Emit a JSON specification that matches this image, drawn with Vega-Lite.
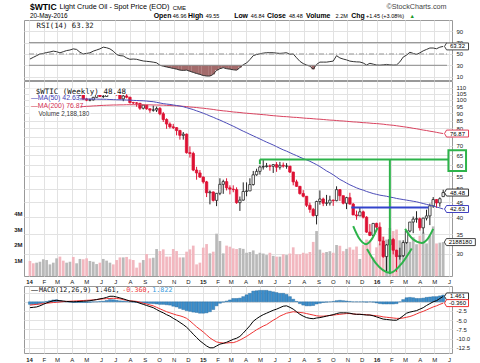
{
"$schema":"https://vega.github.io/schema/vega-lite/v6.json",
"padding":{"left":13,"top":2,"right":0,"bottom":0},
"background":"white",
"config":{"font":"Liberation Sans","view":{"stroke":"#999999","strokeWidth":1},
"axis":{"labelFont":"Liberation Sans","labelFontSize":6,"labelColor":"#222222","gridColor":"#e2e2e2","gridWidth":1,"domain":false,"ticks":false,"labelOverlap":false},
"text":{"font":"Liberation Sans"}},
"datasets":{
"w":[
{"d":"2014-01-03","vol":0.97,"dir":"dn","rsi":41,"m":-1.6,"s":-0.9,"hist":-0.7},
{"d":"2014-01-10","vol":0.82,"dir":"dn","rsi":44,"m":-1.5,"s":-0.8,"hist":-0.7},
{"d":"2014-01-17","vol":0.86,"dir":"up","rsi":47,"m":-1.4,"s":-0.7,"hist":-0.7},
{"d":"2014-01-24","vol":0.92,"dir":"up","rsi":50,"m":-1.1,"s":-0.6,"hist":-0.5},
{"d":"2014-01-31","vol":1.08,"dir":"up","rsi":51,"m":-0.7,"s":-0.5,"hist":-0.2},
{"d":"2014-02-07","vol":1.03,"dir":"up","rsi":52.5,"m":-0.3,"s":-0.4,"hist":0.1},
{"d":"2014-02-14","vol":0.75,"dir":"up","rsi":53.5,"m":0.0,"s":-0.3,"hist":0.3},
{"d":"2014-02-21","vol":0.86,"dir":"up","rsi":55,"m":0.3,"s":-0.2,"hist":0.5},
{"d":"2014-02-28","vol":1.14,"dir":"up","rsi":54,"m":0.4,"s":-0.15,"hist":0.55},
{"d":"2014-03-07","vol":1.25,"dir":"dn","rsi":52,"m":0.3,"s":-0.05,"hist":0.35},
{"d":"2014-03-14","vol":0.99,"dir":"dn","rsi":54,"m":0.2,"s":0.05,"hist":0.15},
{"d":"2014-03-21","vol":0.86,"dir":"up","rsi":56,"m":0.1,"s":0.1,"hist":0.0},
{"d":"2014-03-28","vol":0.92,"dir":"up","rsi":57,"m":0.05,"s":0.15,"hist":-0.1},
{"d":"2014-04-04","vol":1.23,"dir":"dn","rsi":59,"m":0.0,"s":0.2,"hist":-0.2},
{"d":"2014-04-11","vol":0.82,"dir":"up","rsi":58,"m":0.05,"s":0.25,"hist":-0.2,"o":101.2,"hi":104.0,"lo":100.8,"c":103.7},
{"d":"2014-04-18","vol":1.1,"dir":"up","rsi":53,"m":0.1,"s":0.3,"hist":-0.2,"o":103.7,"hi":104.9,"lo":103.0,"c":104.3,"ma50":100.7,"ma200":94.7},
{"d":"2014-04-25","vol":1.08,"dir":"dn","rsi":50,"m":0.15,"s":0.35,"hist":-0.2,"o":104.3,"hi":104.5,"lo":100.3,"c":100.6,"ma50":100.7,"ma200":94.9},
{"d":"2014-05-02","vol":1.14,"dir":"dn","rsi":51,"m":0.2,"s":0.4,"hist":-0.2,"o":100.6,"hi":101.6,"lo":99.0,"c":99.8,"ma50":100.7,"ma200":95.1},
{"d":"2014-05-09","vol":0.97,"dir":"up","rsi":52,"m":0.3,"s":0.45,"hist":-0.15,"o":99.8,"hi":101.0,"lo":98.9,"c":100.0,"ma50":100.65,"ma200":95.2},
{"d":"2014-05-16","vol":0.92,"dir":"up","rsi":55,"m":0.45,"s":0.5,"hist":-0.05,"o":100.0,"hi":102.4,"lo":99.5,"c":102.0,"ma50":100.6,"ma200":95.4},
{"d":"2014-05-23","vol":0.77,"dir":"up","rsi":57,"m":0.6,"s":0.6,"hist":0.0,"o":102.0,"hi":104.5,"lo":101.8,"c":104.4,"ma50":100.6,"ma200":95.5},
{"d":"2014-05-30","vol":0.86,"dir":"dn","rsi":59,"m":0.8,"s":0.7,"hist":0.1,"o":104.4,"hi":104.6,"lo":102.2,"c":102.7,"ma50":100.5,"ma200":95.7},
{"d":"2014-06-06","vol":1.1,"dir":"up","rsi":62,"m":0.95,"s":0.8,"hist":0.15,"o":102.7,"hi":104.0,"lo":101.4,"c":102.7,"ma50":100.5,"ma200":95.8},
{"d":"2014-06-13","vol":0.99,"dir":"up","rsi":61,"m":1.2,"s":0.85,"hist":0.35,"o":102.7,"hi":107.7,"lo":102.5,"c":106.9,"ma50":100.45,"ma200":95.9},
{"d":"2014-06-20","vol":0.86,"dir":"up","rsi":59,"m":1.5,"s":0.9,"hist":0.6,"o":106.9,"hi":107.7,"lo":105.5,"c":107.3,"ma50":100.3,"ma200":96.0},
{"d":"2014-06-27","vol":0.75,"dir":"dn","rsi":55,"m":1.5,"s":0.95,"hist":0.55,"o":107.3,"hi":107.5,"lo":104.8,"c":105.7,"ma50":100.2,"ma200":96.1},
{"d":"2014-07-04","vol":1.03,"dir":"dn","rsi":49,"m":1.3,"s":0.9,"hist":0.4,"o":105.7,"hi":106.0,"lo":103.4,"c":104.1,"ma50":100.1,"ma200":96.1},
{"d":"2014-07-11","vol":1.2,"dir":"dn","rsi":47,"m":1.05,"s":0.8,"hist":0.25,"o":104.1,"hi":104.2,"lo":100.6,"c":100.8,"ma50":100.05,"ma200":96.2},
{"d":"2014-07-18","vol":1.2,"dir":"up","rsi":46.5,"m":0.8,"s":0.6,"hist":0.2,"o":100.8,"hi":104.0,"lo":99.0,"c":103.1,"ma50":100.0,"ma200":96.2},
{"d":"2014-07-25","vol":1.23,"dir":"dn","rsi":43,"m":0.5,"s":0.4,"hist":0.1,"o":103.1,"hi":104.6,"lo":101.2,"c":102.1,"ma50":99.9,"ma200":96.3},
{"d":"2014-08-01","vol":1.08,"dir":"dn","rsi":40.6,"m":0.2,"s":0.25,"hist":-0.05,"o":102.1,"hi":102.4,"lo":97.2,"c":97.9,"ma50":99.8,"ma200":96.3},
{"d":"2014-08-08","vol":1.03,"dir":"dn","rsi":41,"m":0.1,"s":0.2,"hist":-0.1,"o":97.9,"hi":98.5,"lo":96.6,"c":97.7,"ma50":99.6,"ma200":96.3},
{"d":"2014-08-15","vol":0.54,"dir":"dn","rsi":40.6,"m":-0.06,"s":0.1,"hist":-0.16,"o":97.7,"hi":98.3,"lo":94.8,"c":97.4,"ma50":99.5,"ma200":96.3},
{"d":"2014-08-22","vol":0.86,"dir":"dn","rsi":39,"m":-0.4,"s":-0.1,"hist":-0.3,"o":97.4,"hi":97.6,"lo":92.5,"c":93.7,"ma50":99.4,"ma200":96.3},
{"d":"2014-08-29","vol":1.03,"dir":"up","rsi":37.6,"m":-0.7,"s":-0.4,"hist":-0.3,"o":93.7,"hi":96.1,"lo":92.8,"c":96.0,"ma50":99.3,"ma200":96.3},
{"d":"2014-09-05","vol":1.42,"dir":"dn","rsi":37,"m":-1.0,"s":-0.6,"hist":-0.4,"o":96.0,"hi":96.1,"lo":92.6,"c":93.3,"ma50":99.1,"ma200":96.2},
{"d":"2014-09-12","vol":1.14,"dir":"dn","rsi":36.4,"m":-1.3,"s":-0.85,"hist":-0.45,"o":93.3,"hi":93.3,"lo":90.4,"c":92.3,"ma50":98.8,"ma200":96.2},
{"d":"2014-09-19","vol":1.18,"dir":"up","rsi":35.5,"m":-1.6,"s":-1.1,"hist":-0.5,"o":92.3,"hi":95.6,"lo":91.2,"c":92.4,"ma50":98.6,"ma200":96.1},
{"d":"2014-09-26","vol":1.74,"dir":"up","rsi":34.4,"m":-2.1,"s":-1.5,"hist":-0.6,"o":92.4,"hi":94.9,"lo":91.0,"c":93.5,"ma50":98.1,"ma200":96.1},
{"d":"2014-10-03","vol":1.61,"dir":"dn","rsi":30,"m":-2.6,"s":-1.9,"hist":-0.7,"o":93.5,"hi":94.6,"lo":88.7,"c":89.7,"ma50":97.6,"ma200":96.0},
{"d":"2014-10-10","vol":1.72,"dir":"dn","rsi":28.5,"m":-3.0,"s":-2.3,"hist":-0.7,"o":89.7,"hi":91.0,"lo":84.2,"c":85.8,"ma50":97.1,"ma200":96.0},
{"d":"2014-10-17","vol":1.25,"dir":"dn","rsi":27,"m":-3.5,"s":-2.7,"hist":-0.8,"o":85.8,"hi":86.6,"lo":79.8,"c":82.8,"ma50":96.8,"ma200":95.8},
{"d":"2014-10-24","vol":1.25,"dir":"dn","rsi":25.8,"m":-3.9,"s":-3.0,"hist":-0.9,"o":82.8,"hi":83.9,"lo":80.0,"c":81.0,"ma50":96.5,"ma200":95.7},
{"d":"2014-10-31","vol":1.74,"dir":"dn","rsi":24.5,"m":-4.5,"s":-3.3,"hist":-1.2,"o":81.0,"hi":82.9,"lo":79.6,"c":80.5,"ma50":96.1,"ma200":95.5},
{"d":"2014-11-07","vol":1.61,"dir":"dn","rsi":23.2,"m":-5.0,"s":-3.6,"hist":-1.4,"o":80.5,"hi":80.8,"lo":75.8,"c":78.7,"ma50":95.7,"ma200":95.4},
{"d":"2014-11-14","vol":1.2,"dir":"dn","rsi":21.5,"m":-5.6,"s":-3.8,"hist":-1.8,"o":78.7,"hi":79.2,"lo":73.3,"c":75.8,"ma50":95.3,"ma200":95.3},
{"d":"2014-11-21","vol":1.2,"dir":"up","rsi":21,"m":-6.2,"s":-4.1,"hist":-2.1,"o":75.8,"hi":77.8,"lo":73.3,"c":76.5,"ma50":94.8,"ma200":95.1},
{"d":"2014-11-28","vol":1.57,"dir":"dn","rsi":21.5,"m":-6.9,"s":-4.5,"hist":-2.4,"o":76.5,"hi":76.9,"lo":65.7,"c":66.2,"ma50":94.1,"ma200":94.9},
{"d":"2014-12-05","vol":1.72,"dir":"dn","rsi":19.5,"m":-7.8,"s":-5.2,"hist":-2.6,"o":66.2,"hi":69.5,"lo":63.7,"c":65.8,"ma50":93.4,"ma200":94.6},
{"d":"2014-12-12","vol":1.96,"dir":"dn","rsi":17.5,"m":-8.8,"s":-6.0,"hist":-2.8,"o":65.8,"hi":66.7,"lo":57.3,"c":57.8,"ma50":92.7,"ma200":94.4},
{"d":"2014-12-19","vol":0.75,"dir":"dn","rsi":15.5,"m":-9.7,"s":-6.8,"hist":-2.9,"o":57.8,"hi":59.3,"lo":53.6,"c":56.5,"ma50":91.8,"ma200":94.2},
{"d":"2014-12-26","vol":0.86,"dir":"dn","rsi":14,"m":-10.6,"s":-7.5,"hist":-3.1,"o":56.5,"hi":57.8,"lo":54.4,"c":54.7,"ma50":91.0,"ma200":93.9},
{"d":"2015-01-02","vol":1.83,"dir":"dn","rsi":12,"m":-11.3,"s":-8.2,"hist":-3.1,"o":54.7,"hi":55.0,"lo":52.0,"c":52.7,"ma50":90.1,"ma200":93.7},
{"d":"2015-01-09","vol":2.06,"dir":"dn","rsi":11,"m":-12.0,"s":-9.0,"hist":-3.0,"o":52.7,"hi":53.1,"lo":46.8,"c":48.4,"ma50":89.2,"ma200":93.4},
{"d":"2015-01-16","vol":1.46,"dir":"up","rsi":11,"m":-12.5,"s":-9.8,"hist":-2.7,"o":48.4,"hi":49.3,"lo":44.2,"c":48.7,"ma50":88.2,"ma200":93.1},
{"d":"2015-01-23","vol":1.57,"dir":"dn","rsi":14,"m":-12.5,"s":-10.4,"hist":-2.1,"o":48.7,"hi":48.9,"lo":45.2,"c":45.6,"ma50":87.3,"ma200":92.8},
{"d":"2015-01-30","vol":2.73,"dir":"up","rsi":21,"m":-12.0,"s":-10.9,"hist":-1.1,"o":45.6,"hi":48.3,"lo":43.6,"c":48.2,"ma50":86.3,"ma200":92.4},
{"d":"2015-02-06","vol":2.26,"dir":"up","rsi":24,"m":-11.5,"s":-11.1,"hist":-0.4,"o":48.2,"hi":54.2,"lo":47.5,"c":51.7,"ma50":85.4,"ma200":92.1},
{"d":"2015-02-13","vol":1.46,"dir":"up","rsi":25.8,"m":-11.3,"s":-11.2,"hist":-0.1,"o":51.7,"hi":53.6,"lo":48.0,"c":52.8,"ma50":84.4,"ma200":91.8},
{"d":"2015-02-20","vol":1.96,"dir":"dn","rsi":24,"m":-11.0,"s":-11.2,"hist":0.2,"o":52.8,"hi":54.2,"lo":49.3,"c":50.3,"ma50":83.4,"ma200":91.6},
{"d":"2015-02-27","vol":1.89,"dir":"dn","rsi":23.2,"m":-10.6,"s":-11.1,"hist":0.5,"o":50.3,"hi":51.3,"lo":47.8,"c":49.8,"ma50":82.4,"ma200":91.3},
{"d":"2015-03-06","vol":1.78,"dir":"dn","rsi":22,"m":-10.2,"s":-11.1,"hist":0.9,"o":49.8,"hi":51.3,"lo":48.6,"c":49.6,"ma50":81.4,"ma200":91.0},
{"d":"2015-03-13","vol":1.74,"dir":"dn","rsi":21.5,"m":-9.9,"s":-10.8,"hist":0.9,"o":49.6,"hi":50.5,"lo":44.4,"c":44.8,"ma50":80.4,"ma200":90.8},
{"d":"2015-03-20","vol":1.8,"dir":"up","rsi":26,"m":-9.4,"s":-10.4,"hist":1.0,"o":44.8,"hi":47.0,"lo":42.0,"c":45.7,"ma50":79.3,"ma200":90.6},
{"d":"2015-03-27","vol":1.75,"dir":"up","rsi":31,"m":-8.5,"s":-9.9,"hist":1.4,"o":45.7,"hi":52.5,"lo":45.5,"c":48.9,"ma50":78.3,"ma200":90.3},
{"d":"2015-04-03","vol":1.5,"dir":"up","rsi":34,"m":-7.5,"s":-9.4,"hist":1.9,"o":48.9,"hi":52.5,"lo":47.1,"c":49.1,"ma50":77.4,"ma200":90.1},
{"d":"2015-04-10","vol":1.55,"dir":"up","rsi":40,"m":-6.5,"s":-8.8,"hist":2.3,"o":49.1,"hi":54.2,"lo":49.1,"c":51.6,"ma50":76.4,"ma200":89.9},
{"d":"2015-04-17","vol":1.65,"dir":"up","rsi":47,"m":-5.3,"s":-8.2,"hist":2.9,"o":51.6,"hi":57.4,"lo":51.2,"c":55.7,"ma50":75.5,"ma200":89.7},
{"d":"2015-04-24","vol":1.4,"dir":"up","rsi":49,"m":-4.6,"s":-7.6,"hist":3.0,"o":55.7,"hi":58.4,"lo":55.3,"c":57.2,"ma50":74.6,"ma200":89.5},
{"d":"2015-05-01","vol":1.5,"dir":"up","rsi":50.4,"m":-4.0,"s":-7.1,"hist":3.1,"o":57.2,"hi":59.9,"lo":55.8,"c":59.2,"ma50":73.7,"ma200":89.3},
{"d":"2015-05-08","vol":1.45,"dir":"up","rsi":51.5,"m":-3.5,"s":-6.6,"hist":3.1,"o":59.2,"hi":62.6,"lo":58.0,"c":59.4,"ma50":72.8,"ma200":89.1},
{"d":"2015-05-15","vol":1.35,"dir":"up","rsi":52.2,"m":-3.1,"s":-6.2,"hist":3.1,"o":59.4,"hi":61.1,"lo":58.9,"c":59.7,"ma50":71.9,"ma200":88.9},
{"d":"2015-05-22","vol":1.5,"dir":"dn","rsi":52.2,"m":-2.7,"s":-5.6,"hist":2.9,"o":59.7,"hi":60.4,"lo":57.5,"c":59.5,"ma50":71.1,"ma200":88.6},
{"d":"2015-05-29","vol":1.3,"dir":"up","rsi":52.2,"m":-2.3,"s":-5.0,"hist":2.7,"o":59.5,"hi":60.6,"lo":56.5,"c":60.3,"ma50":70.3,"ma200":88.4},
{"d":"2015-06-05","vol":1.25,"dir":"dn","rsi":51.5,"m":-2.0,"s":-4.5,"hist":2.5,"o":60.3,"hi":61.5,"lo":57.0,"c":59.1,"ma50":69.4,"ma200":88.2},
{"d":"2015-06-12","vol":1.25,"dir":"up","rsi":51,"m":-1.6,"s":-3.9,"hist":2.3,"o":59.1,"hi":61.6,"lo":58.0,"c":60.0,"ma50":68.5,"ma200":88.0},
{"d":"2015-06-19","vol":1.4,"dir":"dn","rsi":51.5,"m":-1.2,"s":-3.5,"hist":2.3,"o":60.0,"hi":61.3,"lo":58.9,"c":59.6,"ma50":67.7,"ma200":87.8},
{"d":"2015-06-26","vol":1.35,"dir":"up","rsi":52.2,"m":-1.1,"s":-3.1,"hist":2.0,"o":59.6,"hi":61.0,"lo":58.4,"c":59.6,"ma50":67.0,"ma200":87.7},
{"d":"2015-07-03","vol":1.45,"dir":"dn","rsi":49.3,"m":-1.5,"s":-2.9,"hist":1.4,"o":59.6,"hi":59.7,"lo":56.5,"c":56.9,"ma50":66.2,"ma200":87.5},
{"d":"2015-07-10","vol":1.85,"dir":"dn","rsi":50,"m":-2.0,"s":-2.7,"hist":0.7,"o":56.9,"hi":57.0,"lo":51.3,"c":52.7,"ma50":65.4,"ma200":87.3},
{"d":"2015-07-17","vol":1.4,"dir":"dn","rsi":43.3,"m":-2.7,"s":-2.8,"hist":0.1,"o":52.7,"hi":53.6,"lo":50.7,"c":50.9,"ma50":64.7,"ma200":87.2},
{"d":"2015-07-24","vol":1.4,"dir":"dn","rsi":37,"m":-3.4,"s":-2.9,"hist":-0.5,"o":50.9,"hi":51.0,"lo":47.7,"c":48.1,"ma50":63.9,"ma200":87.0},
{"d":"2015-07-31","vol":1.5,"dir":"dn","rsi":33,"m":-3.9,"s":-3.0,"hist":-0.9,"o":48.1,"hi":49.4,"lo":46.7,"c":47.1,"ma50":63.2,"ma200":86.8},
{"d":"2015-08-07","vol":1.45,"dir":"dn","rsi":30.5,"m":-4.3,"s":-3.2,"hist":-1.1,"o":47.1,"hi":47.1,"lo":43.3,"c":43.9,"ma50":62.6,"ma200":86.6},
{"d":"2015-08-14","vol":1.55,"dir":"dn","rsi":28.5,"m":-4.5,"s":-3.4,"hist":-1.1,"o":43.9,"hi":44.8,"lo":41.4,"c":42.5,"ma50":61.9,"ma200":86.5},
{"d":"2015-08-21","vol":2.2,"dir":"dn","rsi":23,"m":-4.6,"s":-3.6,"hist":-1.0,"o":42.5,"hi":43.0,"lo":40.2,"c":40.5,"ma50":61.1,"ma200":86.3},
{"d":"2015-08-28","vol":2.9,"dir":"up","rsi":31.5,"m":-4.4,"s":-3.8,"hist":-0.6,"o":40.5,"hi":45.5,"lo":37.8,"c":45.2,"ma50":60.3,"ma200":86.1},
{"d":"2015-09-04","vol":1.7,"dir":"up","rsi":35.6,"m":-4.3,"s":-3.9,"hist":-0.4,"o":45.2,"hi":49.3,"lo":44.1,"c":46.1,"ma50":59.4,"ma200":86.0},
{"d":"2015-09-11","vol":1.5,"dir":"dn","rsi":35.6,"m":-4.1,"s":-3.9,"hist":-0.2,"o":46.1,"hi":46.6,"lo":43.6,"c":44.6,"ma50":58.4,"ma200":85.8},
{"d":"2015-09-18","vol":1.55,"dir":"up","rsi":35.6,"m":-3.9,"s":-3.8,"hist":-0.1,"o":44.6,"hi":47.6,"lo":43.7,"c":44.7,"ma50":57.4,"ma200":85.6},
{"d":"2015-09-25","vol":1.6,"dir":"up","rsi":36.5,"m":-3.7,"s":-3.7,"hist":0.0,"o":44.7,"hi":47.3,"lo":43.8,"c":45.7,"ma50":56.6,"ma200":85.4},
{"d":"2015-10-02","vol":1.5,"dir":"dn","rsi":37.4,"m":-3.5,"s":-3.6,"hist":0.1,"o":45.7,"hi":45.9,"lo":43.7,"c":45.5,"ma50":55.7,"ma200":85.3},
{"d":"2015-10-09","vol":2.0,"dir":"up","rsi":47,"m":-3.2,"s":-3.5,"hist":0.3,"o":45.5,"hi":50.9,"lo":45.3,"c":49.6,"ma50":54.7,"ma200":85.1},
{"d":"2015-10-16","vol":1.95,"dir":"dn","rsi":43,"m":-3.0,"s":-3.4,"hist":0.4,"o":49.6,"hi":49.8,"lo":45.4,"c":47.3,"ma50":53.7,"ma200":84.9},
{"d":"2015-10-23","vol":1.6,"dir":"dn","rsi":41,"m":-3.0,"s":-3.3,"hist":0.3,"o":47.3,"hi":47.3,"lo":44.2,"c":44.6,"ma50":53.0,"ma200":84.8},
{"d":"2015-10-30","vol":1.75,"dir":"up","rsi":39.5,"m":-3.0,"s":-3.2,"hist":0.2,"o":44.6,"hi":46.9,"lo":42.6,"c":46.6,"ma50":52.2,"ma200":84.6},
{"d":"2015-11-06","vol":1.85,"dir":"dn","rsi":37.4,"m":-3.1,"s":-3.2,"hist":0.1,"o":46.6,"hi":48.4,"lo":44.2,"c":44.3,"ma50":51.5,"ma200":84.4},
{"d":"2015-11-13","vol":1.7,"dir":"dn","rsi":36.5,"m":-3.3,"s":-3.3,"hist":0.0,"o":44.3,"hi":44.7,"lo":40.7,"c":40.7,"ma50":50.9,"ma200":84.2},
{"d":"2015-11-20","vol":1.9,"dir":"dn","rsi":36,"m":-3.4,"s":-3.4,"hist":0.0,"o":40.7,"hi":42.1,"lo":39.2,"c":40.4,"ma50":50.3,"ma200":84.1},
{"d":"2015-11-27","vol":1.1,"dir":"up","rsi":35.8,"m":-3.4,"s":-3.4,"hist":0.0,"o":40.4,"hi":43.1,"lo":40.4,"c":41.7,"ma50":49.8,"ma200":83.9},
{"d":"2015-12-04","vol":2.0,"dir":"dn","rsi":34,"m":-3.5,"s":-3.45,"hist":-0.05,"o":41.7,"hi":42.1,"lo":39.6,"c":40.0,"ma50":49.4,"ma200":83.7},
{"d":"2015-12-11","vol":2.35,"dir":"dn","rsi":30.5,"m":-3.6,"s":-3.5,"hist":-0.1,"o":40.0,"hi":40.3,"lo":35.4,"c":35.6,"ma50":48.9,"ma200":83.6},
{"d":"2015-12-18","vol":2.3,"dir":"dn","rsi":33.5,"m":-3.6,"s":-3.6,"hist":0.0,"o":35.6,"hi":37.9,"lo":34.5,"c":34.7,"ma50":48.5,"ma200":83.4},
{"d":"2015-12-25","vol":1.2,"dir":"up","rsi":32,"m":-3.8,"s":-3.7,"hist":-0.1,"o":34.7,"hi":38.1,"lo":34.5,"c":38.1,"ma50":48.1,"ma200":83.2},
{"d":"2016-01-01","vol":1.85,"dir":"dn","rsi":30.5,"m":-4.1,"s":-3.8,"hist":-0.3,"o":38.1,"hi":38.3,"lo":36.0,"c":37.0,"ma50":47.8,"ma200":83.1},
{"d":"2016-01-08","vol":2.1,"dir":"dn","rsi":30.2,"m":-4.4,"s":-3.9,"hist":-0.5,"o":37.0,"hi":38.4,"lo":32.1,"c":33.2,"ma50":47.5,"ma200":82.9},
{"d":"2016-01-15","vol":2.55,"dir":"dn","rsi":30.8,"m":-4.7,"s":-4.1,"hist":-0.6,"o":33.2,"hi":34.3,"lo":29.1,"c":29.4,"ma50":47.3,"ma200":82.7},
{"d":"2016-01-22","vol":2.35,"dir":"up","rsi":31.5,"m":-4.8,"s":-4.2,"hist":-0.6,"o":29.4,"hi":32.4,"lo":26.2,"c":32.2,"ma50":47.1,"ma200":82.4},
{"d":"2016-01-29","vol":3.1,"dir":"up","rsi":30.8,"m":-4.9,"s":-4.3,"hist":-0.6,"o":32.2,"hi":34.8,"lo":29.3,"c":33.6,"ma50":46.8,"ma200":82.2},
{"d":"2016-02-05","vol":2.9,"dir":"dn","rsi":30.3,"m":-5.0,"s":-4.4,"hist":-0.6,"o":33.6,"hi":34.0,"lo":29.9,"c":30.9,"ma50":46.6,"ma200":82.0},
{"d":"2016-02-12","vol":3.0,"dir":"dn","rsi":30.6,"m":-5.0,"s":-4.5,"hist":-0.5,"o":30.9,"hi":31.0,"lo":26.1,"c":29.4,"ma50":46.3,"ma200":81.7},
{"d":"2016-02-19","vol":2.3,"dir":"up","rsi":36,"m":-4.5,"s":-4.5,"hist":0.0,"o":29.4,"hi":31.5,"lo":28.7,"c":29.6,"ma50":46.1,"ma200":81.4},
{"d":"2016-02-26","vol":2.2,"dir":"up","rsi":44.5,"m":-3.8,"s":-4.4,"hist":0.6,"o":29.6,"hi":33.4,"lo":29.3,"c":32.8,"ma50":45.9,"ma200":81.1},
{"d":"2016-03-04","vol":2.4,"dir":"up","rsi":48,"m":-3.1,"s":-4.2,"hist":1.1,"o":32.8,"hi":36.0,"lo":32.5,"c":35.9,"ma50":45.7,"ma200":80.8},
{"d":"2016-03-11","vol":2.2,"dir":"up","rsi":53,"m":-2.8,"s":-4.0,"hist":1.2,"o":35.9,"hi":38.5,"lo":35.5,"c":38.5,"ma50":45.5,"ma200":80.5},
{"d":"2016-03-18","vol":2.5,"dir":"up","rsi":51,"m":-2.6,"s":-3.7,"hist":1.1,"o":38.5,"hi":40.2,"lo":35.3,"c":39.4,"ma50":45.3,"ma200":80.1},
{"d":"2016-03-25","vol":2.05,"dir":"up","rsi":49.2,"m":-2.4,"s":-3.3,"hist":0.9,"o":39.4,"hi":41.9,"lo":38.3,"c":39.5,"ma50":45.1,"ma200":79.8},
{"d":"2016-04-01","vol":2.6,"dir":"dn","rsi":52,"m":-2.0,"s":-2.9,"hist":0.9,"o":39.5,"hi":39.9,"lo":36.0,"c":36.8,"ma50":44.8,"ma200":79.4},
{"d":"2016-04-08","vol":2.8,"dir":"up","rsi":55.5,"m":-1.6,"s":-2.6,"hist":1.0,"o":36.8,"hi":39.8,"lo":35.2,"c":39.7,"ma50":44.5,"ma200":79.0},
{"d":"2016-04-15","vol":2.1,"dir":"up","rsi":58,"m":-1.0,"s":-2.2,"hist":1.2,"o":39.7,"hi":42.4,"lo":39.0,"c":40.4,"ma50":44.2,"ma200":78.7},
{"d":"2016-04-22","vol":2.6,"dir":"up","rsi":60.5,"m":-0.5,"s":-1.8,"hist":1.3,"o":40.4,"hi":44.5,"lo":37.6,"c":43.7,"ma50":43.9,"ma200":78.3},
{"d":"2016-04-29","vol":3.2,"dir":"up","rsi":60.5,"m":0.0,"s":-1.4,"hist":1.4,"o":43.7,"hi":46.8,"lo":43.0,"c":45.9,"ma50":43.6,"ma200":78.0},
{"d":"2016-05-06","vol":2.1,"dir":"dn","rsi":59.2,"m":0.3,"s":-1.1,"hist":1.4,"o":45.9,"hi":46.0,"lo":43.0,"c":44.7,"ma50":43.3,"ma200":77.6},
{"d":"2016-05-13","vol":2.15,"dir":"up","rsi":62,"m":0.9,"s":-0.7,"hist":1.6,"o":44.7,"hi":46.7,"lo":43.4,"c":46.2,"ma50":43.0,"ma200":77.2},
{"d":"2016-05-20","vol":2.188,"dir":"up","rsi":63.32,"m":1.461,"s":-0.36,"hist":1.822,"o":46.96,"hi":49.55,"lo":46.84,"c":48.48,"ma50":42.63,"ma200":76.87}
],
"cup":[
{"id":1,"d":"2015-11-13","p":37.3},{"id":1,"d":"2015-11-25","p":34.0},{"id":1,"d":"2015-12-10","p":32.4},{"id":1,"d":"2015-12-22","p":33.7},{"id":1,"d":"2016-01-03","p":36.8},
{"id":2,"d":"2015-12-12","p":31.2},{"id":2,"d":"2015-12-30","p":28.0},{"id":2,"d":"2016-01-30","p":25.9},{"id":2,"d":"2016-02-24","p":28.0},{"id":2,"d":"2016-03-15","p":31.3},
{"id":3,"d":"2016-03-01","p":36.5},{"id":3,"d":"2016-03-17","p":33.7},{"id":3,"d":"2016-04-05","p":32.7},{"id":3,"d":"2016-04-17","p":33.7},{"id":3,"d":"2016-04-29","p":36.5}
]},
"spacing":1,
"bounds":"flush",
"vconcat":[
{"width":428,"height":60,"data":{"name":"w"},
"layer":[
{"transform":[{"filter":"datum.rsi < 30"}],"mark":{"type":"bar","width":3.5,"color":"#a36b6b","opacity":1},
"encoding":{"x":{"field":"d","type":"temporal","scale":{"type":"utc","domain":[{"year":2014,"month":1,"date":1,"utc":true},{"year":2016,"month":5,"date":28,"utc":true}]},"axis":{"tickCount":{"interval":"month","step":1},"labels":false,"grid":true,"title":null}},
"y":{"field":"rsi","type":"quantitative","scale":{"domain":[4,110],"nice":false,"zero":false},"axis":{"orient":"right","values":[10,30,50,70,90],"tickCount":10,"grid":true,"labelPadding":4,"labelOverlap":false,"title":null}},
"y2":{"datum":30}}},
{"mark":{"type":"line","color":"#333333","strokeWidth":1},
"encoding":{"x":{"field":"d","type":"temporal"},"y":{"field":"rsi","type":"quantitative"}}},
{"mark":{"type":"rule","color":"#8a8a8a","strokeWidth":1},"data":{"values":[{}]},"encoding":{"x":{"datum":{"year":2014,"month":1,"date":1,"utc":true}},"x2":{"datum":{"year":2016,"month":5,"date":28,"utc":true}},"y":{"datum":70}}},
{"mark":{"type":"rule","color":"#8a8a8a","strokeWidth":1},"data":{"values":[{}]},"encoding":{"x":{"datum":{"year":2014,"month":1,"date":1,"utc":true}},"x2":{"datum":{"year":2016,"month":5,"date":28,"utc":true}},"y":{"datum":30}}},
{"mark":{"type":"rule","color":"#999999","strokeWidth":1,"strokeDash":[5,2,1,2]},"data":{"values":[{}]},"encoding":{"x":{"datum":{"year":2014,"month":1,"date":1,"utc":true}},"x2":{"datum":{"year":2016,"month":5,"date":28,"utc":true}},"y":{"datum":50}}},
{"data":{"values":[{}]},"mark":{"type":"text","align":"left","baseline":"middle","fontSize":8.6,"fontWeight":"bold","color":"#000","text":"$WTIC"},"encoding":{"x":{"datum":{"year":2014,"month":1,"date":3,"utc":true}},"y":{"datum":132.1}}},
{"data":{"values":[{}]},"mark":{"type":"text","align":"left","baseline":"middle","fontSize":7.2,"color":"#000","text":"Light Crude Oil - Spot Price (EOD)"},"encoding":{"x":{"datum":{"year":2014,"month":3,"date":6,"utc":true}},"y":{"datum":132.1}}},
{"data":{"values":[{}]},"mark":{"type":"text","align":"left","baseline":"middle","fontSize":6,"color":"#000","text":"CME"},"encoding":{"x":{"datum":{"year":2014,"month":10,"date":30,"utc":true}},"y":{"datum":131.5}}},
{"data":{"values":[{}]},"mark":{"type":"text","align":"right","baseline":"middle","fontSize":7.2,"color":"#444","text":"©StockCharts.com"},"encoding":{"x":{"datum":{"year":2016,"month":5,"date":27,"utc":true}},"y":{"datum":133.3}}},
{"data":{"values":[{}]},"mark":{"type":"text","align":"left","baseline":"middle","fontSize":6.4,"color":"#000","text":"20-May-2016"},"encoding":{"x":{"datum":{"year":2014,"month":1,"date":3,"utc":true}},"y":{"datum":116.5}}},
{"data":{"values":[{}]},"mark":{"type":"text","align":"left","baseline":"middle","fontSize":6.9,"fontWeight":"bold","color":"#000","text":"Open"},"encoding":{"x":{"datum":{"year":2014,"month":9,"date":20,"utc":true}},"y":{"datum":116.5}}},
{"data":{"values":[{}]},"mark":{"type":"text","align":"left","baseline":"middle","fontSize":5.5,"color":"#000","text":"46.96"},"encoding":{"x":{"datum":{"year":2014,"month":10,"date":30,"utc":true}},"y":{"datum":116.5}}},
{"data":{"values":[{}]},"mark":{"type":"text","align":"left","baseline":"middle","fontSize":6.9,"fontWeight":"bold","color":"#000","text":"High"},"encoding":{"x":{"datum":{"year":2014,"month":12,"date":1,"utc":true}},"y":{"datum":116.5}}},
{"data":{"values":[{}]},"mark":{"type":"text","align":"left","baseline":"middle","fontSize":5.5,"color":"#000","text":"49.55"},"encoding":{"x":{"datum":{"year":2015,"month":1,"date":7,"utc":true}},"y":{"datum":116.5}}},
{"data":{"values":[{}]},"mark":{"type":"text","align":"left","baseline":"middle","fontSize":6.9,"fontWeight":"bold","color":"#000","text":"Low"},"encoding":{"x":{"datum":{"year":2015,"month":3,"date":8,"utc":true}},"y":{"datum":116.5}}},
{"data":{"values":[{}]},"mark":{"type":"text","align":"left","baseline":"middle","fontSize":5.5,"color":"#000","text":"46.84"},"encoding":{"x":{"datum":{"year":2015,"month":4,"date":12,"utc":true}},"y":{"datum":116.5}}},
{"data":{"values":[{}]},"mark":{"type":"text","align":"left","baseline":"middle","fontSize":6.9,"fontWeight":"bold","color":"#000","text":"Close"},"encoding":{"x":{"datum":{"year":2015,"month":5,"date":16,"utc":true}},"y":{"datum":116.5}}},
{"data":{"values":[{}]},"mark":{"type":"text","align":"left","baseline":"middle","fontSize":5.5,"color":"#000","text":"48.48"},"encoding":{"x":{"datum":{"year":2015,"month":7,"date":1,"utc":true}},"y":{"datum":116.5}}},
{"data":{"values":[{}]},"mark":{"type":"text","align":"left","baseline":"middle","fontSize":6.9,"fontWeight":"bold","color":"#000","text":"Volume"},"encoding":{"x":{"datum":{"year":2015,"month":8,"date":6,"utc":true}},"y":{"datum":116.5}}},
{"data":{"values":[{}]},"mark":{"type":"text","align":"left","baseline":"middle","fontSize":5.5,"color":"#000","text":"2.2M"},"encoding":{"x":{"datum":{"year":2015,"month":10,"date":7,"utc":true}},"y":{"datum":116.5}}},
{"data":{"values":[{}]},"mark":{"type":"text","align":"left","baseline":"middle","fontSize":6.9,"fontWeight":"bold","color":"#000","text":"Chg"},"encoding":{"x":{"datum":{"year":2015,"month":11,"date":9,"utc":true}},"y":{"datum":116.5}}},
{"data":{"values":[{}]},"mark":{"type":"text","align":"left","baseline":"middle","fontSize":5.5,"color":"#000","text":"+1.45 (+3.08%)"},"encoding":{"x":{"datum":{"year":2015,"month":12,"date":10,"utc":true}},"y":{"datum":116.5}}},
{"data":{"values":[{}]},"mark":{"type":"text","align":"left","baseline":"middle","fontSize":5.5,"color":"#1a9a2a","text":"▲"},"encoding":{"x":{"datum":{"year":2016,"month":3,"date":10,"utc":true}},"y":{"datum":116.5}}},
{"data":{"values":[{}]},"mark":{"type":"text","align":"left","baseline":"middle","fontSize":7.3,"font":"DejaVu Sans Mono","color":"#111","text":"RSI(14) 63.32"},"encoding":{"x":{"datum":{"year":2014,"month":1,"date":17,"utc":true}},"y":{"datum":99.9}}},
{"data":{"values":[{}]},"mark":{"type":"point","shape":"M-1,0L-0.83,-0.29H1V0.29H-0.83Z","size":576,"fill":"white","stroke":"#444444","strokeWidth":1,"opacity":1,"filled":true},"encoding":{"x":{"datum":{"year":2016,"month":6,"date":17,"utc":true}},"y":{"datum":63.32}}},
{"data":{"values":[{}]},"mark":{"type":"text","align":"center","baseline":"middle","fontSize":6,"color":"#000","text":"63.32"},"encoding":{"x":{"datum":{"year":2016,"month":6,"date":19,"utc":true}},"y":{"datum":63.32}}}
]},
{"spacing":10,"bounds":"flush","vconcat":[
{"width":428,"height":195,"data":{"name":"w"},
"layer":[
{"layer":[
{"mark":{"type":"bar","width":2.7},
"encoding":{"x":{"field":"d","type":"temporal","scale":{"type":"utc","domain":[{"year":2014,"month":1,"date":1,"utc":true},{"year":2016,"month":5,"date":28,"utc":true}]},"axis":{"tickCount":{"interval":"month","step":1},"grid":true,"title":null,"labelPadding":2,"labelExpr":"utcmonth(datum.value) == 0 ? utcFormat(datum.value, '%y') : substring(utcFormat(datum.value, '%b'), 0, 1)","labelFontWeight":{"condition":{"test":"utcmonth(datum.value) == 0","value":"bold"},"value":"normal"}}},
"y":{"field":"vol","type":"quantitative","scale":{"domain":[0,12.58],"nice":false,"zero":true},"axis":{"orient":"left","values":[1,2,3,4],"tickCount":10,"labelExpr":"datum.value + 'M'","grid":false,"labelPadding":2,"labelFontWeight":"bold","title":null}},
"color":{"condition":{"test":"datum.dir == 'dn'","value":"#f2b7bf"},"value":"#b9b9b9"}}},
{"data":{"values":[{}]},"mark":{"type":"point","shape":"M-1,0L-0.87,-0.226H1V0.226H-0.87Z","size":961,"fill":"white","stroke":"#444444","strokeWidth":1,"opacity":1,"filled":true},"encoding":{"x":{"datum":{"year":2016,"month":6,"date":24,"utc":true}},"y":{"datum":2.188}}},
{"data":{"values":[{}]},"mark":{"type":"text","align":"center","baseline":"middle","fontSize":6,"color":"#000","text":"2188180"},"encoding":{"x":{"datum":{"year":2016,"month":6,"date":25,"utc":true}},"y":{"datum":2.188}}}
]},
{"layer":[
{"transform":[{"filter":"isValid(datum.c)"}],"mark":{"type":"rule","strokeWidth":1},
"encoding":{"x":{"field":"d","type":"temporal"},
"y":{"field":"lo","type":"quantitative","scale":{"type":"log","domain":[25.26,115.9],"nice":false,"zero":false},"axis":{"orient":"right","values":[30,35,40,45,50,55,60,65,70,75,80,85,90,95,100,105,110],"labelExpr":"datum.value == 75 ? '' : '' + datum.value","grid":true,"labelPadding":4,"title":null}},
"y2":{"field":"hi"},
"color":{"condition":{"test":"datum.dir == 'dn'","value":"#dd1133"},"value":"#222222"}}},
{"transform":[{"filter":"isValid(datum.c)"}],"mark":{"type":"bar","width":2.4,"strokeWidth":0.8},
"encoding":{"x":{"field":"d","type":"temporal"},"y":{"field":"o","type":"quantitative"},"y2":{"field":"c"},
"fill":{"condition":[{"test":"datum.c < datum.o && datum.dir == 'dn'","value":"#dd1133"},{"test":"datum.c < datum.o","value":"#222222"}],"value":"#ffffff"},
"stroke":{"condition":{"test":"datum.dir == 'dn'","value":"#dd1133"},"value":"#222222"}}},
{"transform":[{"filter":"isValid(datum.ma200)"}],"mark":{"type":"line","color":"#d9435f","strokeWidth":1},"encoding":{"x":{"field":"d","type":"temporal"},"y":{"field":"ma200","type":"quantitative"}}},
{"transform":[{"filter":"isValid(datum.ma50)"}],"mark":{"type":"line","color":"#4c4cb8","strokeWidth":1},"encoding":{"x":{"field":"d","type":"temporal"},"y":{"field":"ma50","type":"quantitative"}}},
{"data":{"values":[{}]},"mark":{"type":"rect","color":"white","opacity":1},"encoding":{"x":{"datum":{"year":2014,"month":1,"date":2,"utc":true}},"x2":{"datum":{"year":2014,"month":7,"date":23,"utc":true}},"y":{"datum":109.3},"y2":{"datum":103.9}}},
{"data":{"values":[{}]},"mark":{"type":"rect","color":"white","opacity":1},"encoding":{"x":{"datum":{"year":2014,"month":1,"date":2,"utc":true}},"x2":{"datum":{"year":2014,"month":4,"date":15,"utc":true}},"y":{"datum":103.9},"y2":{"datum":98.37}}},
{"data":{"values":[{}]},"mark":{"type":"rect","color":"white","opacity":1},"encoding":{"x":{"datum":{"year":2014,"month":1,"date":2,"utc":true}},"x2":{"datum":{"year":2014,"month":4,"date":19,"utc":true}},"y":{"datum":98.37},"y2":{"datum":92.77}}},
{"data":{"values":[{}]},"mark":{"type":"rect","color":"white","opacity":1},"encoding":{"x":{"datum":{"year":2014,"month":1,"date":2,"utc":true}},"x2":{"datum":{"year":2014,"month":5,"date":10,"utc":true}},"y":{"datum":92.77},"y2":{"datum":87.5}}},
{"data":{"values":[{}]},"mark":{"type":"rule","color":"#2db34a","strokeWidth":2},"encoding":{"x":{"datum":{"year":2015,"month":5,"date":1,"utc":true}},"x2":{"datum":{"year":2016,"month":5,"date":31,"utc":true}},"y":{"datum":62.8}}},
{"data":{"values":[{}]},"mark":{"type":"rule","color":"#2db34a","strokeWidth":2},"encoding":{"x":{"datum":{"year":2015,"month":5,"date":1,"utc":true}},"y":{"datum":62.8},"y2":{"datum":60.5}}},
{"data":{"values":[{}]},"mark":{"type":"rule","color":"#2db34a","strokeWidth":2},"encoding":{"x":{"datum":{"year":2016,"month":1,"date":29,"utc":true}},"y":{"datum":62.8},"y2":{"datum":25.66}}},
{"data":{"values":[{}]},"mark":{"type":"rule","color":"#3344cc","strokeWidth":2},"encoding":{"x":{"datum":{"year":2015,"month":11,"date":9,"utc":true}},"x2":{"datum":{"year":2016,"month":4,"date":19,"utc":true}},"y":{"datum":43.1}}},
{"data":{"name":"cup"},"mark":{"type":"line","color":"#2db34a","strokeWidth":2,"interpolate":"monotone"},"encoding":{"x":{"field":"d","type":"temporal"},"y":{"field":"p","type":"quantitative"},"detail":{"field":"id","type":"nominal"}}},
{"data":{"values":[{}]},"mark":{"type":"rect","fillOpacity":0,"stroke":"#2db34a","strokeWidth":2},"encoding":{"x":{"datum":{"year":2016,"month":5,"date":31,"utc":true}},"x2":{"datum":{"year":2016,"month":7,"date":7,"utc":true}},"y":{"datum":67.45},"y2":{"datum":57.4}}},
{"data":{"values":[{}]},"mark":{"type":"text","align":"left","baseline":"middle","fontSize":7.5,"font":"DejaVu Sans Mono","color":"#111","text":"$WTIC (Weekly) 48.48"},"encoding":{"x":{"datum":{"year":2014,"month":1,"date":15,"utc":true}},"y":{"datum":106.6}}},
{"data":{"values":[{}]},"mark":{"type":"text","align":"left","baseline":"middle","fontSize":6.9,"color":"#3c3cb4","text":"—MA(50) 42.63"},"encoding":{"x":{"datum":{"year":2014,"month":1,"date":5,"utc":true}},"y":{"datum":101.25}}},
{"data":{"values":[{}]},"mark":{"type":"text","align":"left","baseline":"middle","fontSize":6.9,"color":"#d03050","text":"—MA(200) 76.87"},"encoding":{"x":{"datum":{"year":2014,"month":1,"date":5,"utc":true}},"y":{"datum":95.34}}},
{"data":{"values":[{}]},"mark":{"type":"text","align":"left","baseline":"middle","fontSize":6.3,"color":"#333","text":"Volume 2,188,180"},"encoding":{"x":{"datum":{"year":2014,"month":1,"date":21,"utc":true}},"y":{"datum":89.78}}},
{"data":{"values":[{}]},"mark":{"type":"point","shape":"M-1,0L-0.83,-0.29H1V0.29H-0.83Z","size":576,"fill":"white","stroke":"#e0405a","strokeWidth":1,"opacity":1,"filled":true},"encoding":{"x":{"datum":{"year":2016,"month":6,"date":17,"utc":true}},"y":{"datum":76.87}}},
{"data":{"values":[{}]},"mark":{"type":"text","align":"center","baseline":"middle","fontSize":6,"color":"#000","text":"76.87"},"encoding":{"x":{"datum":{"year":2016,"month":6,"date":19,"utc":true}},"y":{"datum":76.87}}},
{"data":{"values":[{}]},"mark":{"type":"point","shape":"M-1,0L-0.83,-0.29H1V0.29H-0.83Z","size":576,"fill":"white","stroke":"#333333","strokeWidth":1,"opacity":1,"filled":true},"encoding":{"x":{"datum":{"year":2016,"month":6,"date":17,"utc":true}},"y":{"datum":48.48}}},
{"data":{"values":[{}]},"mark":{"type":"text","align":"center","baseline":"middle","fontSize":6,"color":"#000","text":"48.48"},"encoding":{"x":{"datum":{"year":2016,"month":6,"date":19,"utc":true}},"y":{"datum":48.48}}},
{"data":{"values":[{}]},"mark":{"type":"point","shape":"M-1,0L-0.83,-0.29H1V0.29H-0.83Z","size":576,"fill":"white","stroke":"#4040c0","strokeWidth":1,"opacity":1,"filled":true},"encoding":{"x":{"datum":{"year":2016,"month":6,"date":17,"utc":true}},"y":{"datum":42.63}}},
{"data":{"values":[{}]},"mark":{"type":"text","align":"center","baseline":"middle","fontSize":6,"color":"#000","text":"42.63"},"encoding":{"x":{"datum":{"year":2016,"month":6,"date":19,"utc":true}},"y":{"datum":42.63}}}
]}
],
"resolve":{"scale":{"y":"independent"}}},
{"width":428,"height":67,"data":{"name":"w"},
"layer":[
{"mark":{"type":"bar","width":3,"color":"#3d8fcc","stroke":"#1d5f96","strokeWidth":0.4},
"encoding":{"x":{"field":"d","type":"temporal","scale":{"type":"utc","domain":[{"year":2014,"month":1,"date":1,"utc":true},{"year":2016,"month":5,"date":28,"utc":true}]},"axis":{"tickCount":{"interval":"month","step":1},"grid":true,"title":null,"labelPadding":3,"labelExpr":"utcmonth(datum.value) == 0 ? utcFormat(datum.value, '%y') : substring(utcFormat(datum.value, '%b'), 0, 1)","labelFontWeight":{"condition":{"test":"utcmonth(datum.value) == 0","value":"bold"},"value":"normal"}}},
"y":{"field":"hist","type":"quantitative","scale":{"domain":[-13.91,4.29],"nice":false,"zero":false},"axis":{"orient":"right","values":[2.5,0,-2.5,-5,-7.5,-10,-12.5],"tickCount":10,"format":".1f","labelExpr":"datum.value >= 0 ? '' : replace(datum.label, '−', '-')","grid":true,"labelPadding":4,"title":null}},
"y2":{"datum":0}}},
{"mark":{"type":"line","color":"#ee3333","strokeWidth":1},"encoding":{"x":{"field":"d","type":"temporal"},"y":{"field":"s","type":"quantitative"}}},
{"mark":{"type":"line","color":"#000000","strokeWidth":1},"encoding":{"x":{"field":"d","type":"temporal"},"y":{"field":"m","type":"quantitative"}}},
{"data":{"values":[{}]},"mark":{"type":"text","align":"left","baseline":"middle","fontSize":7,"color":"#000","text":"—"},"encoding":{"x":{"datum":{"year":2014,"month":1,"date":5,"utc":true}},"y":{"datum":3.2}}},
{"data":{"values":[{}]},"mark":{"type":"text","align":"left","baseline":"middle","fontSize":6.7,"font":"DejaVu Sans Mono","color":"#111","text":"MACD(12,26,9) 1.461,"},"encoding":{"x":{"datum":{"year":2014,"month":1,"date":22,"utc":true}},"y":{"datum":3.2}}},
{"data":{"values":[{}]},"mark":{"type":"text","align":"left","baseline":"middle","fontSize":6.7,"font":"DejaVu Sans Mono","color":"#ee3333","text":"-0.360,"},"encoding":{"x":{"datum":{"year":2014,"month":7,"date":16,"utc":true}},"y":{"datum":3.2}}},
{"data":{"values":[{}]},"mark":{"type":"text","align":"left","baseline":"middle","fontSize":6.7,"font":"DejaVu Sans Mono","color":"#3399dd","text":"1.822"},"encoding":{"x":{"datum":{"year":2014,"month":9,"date":17,"utc":true}},"y":{"datum":3.2}}},
{"data":{"values":[{}]},"mark":{"type":"point","shape":"M-1,0L-0.83,-0.29H1V0.29H-0.83Z","size":576,"fill":"white","stroke":"#333333","strokeWidth":1,"opacity":1,"filled":true},"encoding":{"x":{"datum":{"year":2016,"month":6,"date":17,"utc":true}},"y":{"datum":1.461}}},
{"data":{"values":[{}]},"mark":{"type":"text","align":"center","baseline":"middle","fontSize":6,"color":"#000","text":"1.461"},"encoding":{"x":{"datum":{"year":2016,"month":6,"date":19,"utc":true}},"y":{"datum":1.461}}},
{"data":{"values":[{}]},"mark":{"type":"point","shape":"M-1,0L-0.83,-0.29H1V0.29H-0.83Z","size":576,"fill":"white","stroke":"#ee3333","strokeWidth":1,"opacity":1,"filled":true},"encoding":{"x":{"datum":{"year":2016,"month":6,"date":17,"utc":true}},"y":{"datum":-0.36}}},
{"data":{"values":[{}]},"mark":{"type":"text","align":"center","baseline":"middle","fontSize":6,"color":"#000","text":"-0.360"},"encoding":{"x":{"datum":{"year":2016,"month":6,"date":19,"utc":true}},"y":{"datum":-0.36}}}
]}
]}
]
}
